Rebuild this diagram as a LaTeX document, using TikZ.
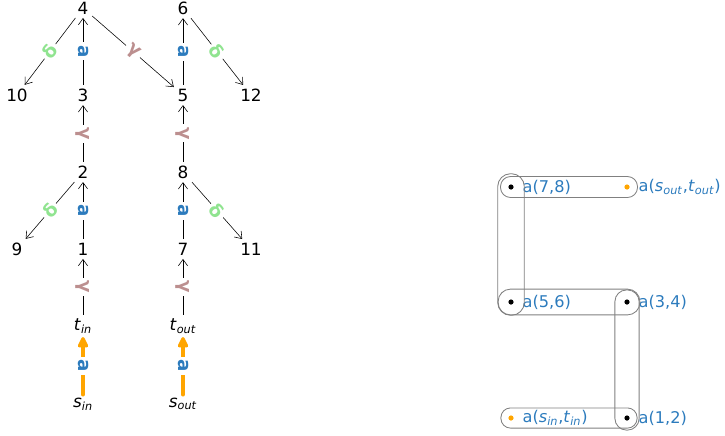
\documentclass[tikz,border=0pt]{standalone}
\usepackage{fontspec}
\setmainfont{DejaVu Sans}
\usetikzlibrary{arrows.meta,fit}

\definecolor{ablue}{RGB}{44,123,189}
\definecolor{gpink}{RGB}{188,143,143}
\definecolor{dgreen}{RGB}{144,228,144}
\definecolor{sorange}{RGB}{255,165,0}

\tikzset{
  vert/.style={inner sep=2.5pt, font=\fontsize{12}{14}\selectfont},
  edge/.style={thin, -{Straight Barb[length=4.5pt,width=6.5pt]}},
  elab/.style={fill=white, inner sep=2pt, font=\bfseries\fontsize{13}{14}\selectfont},
  alab/.style={elab, text=ablue},
  glab/.style={elab, text=gpink},
  dlab/.style={elab, text=dgreen},
  sedge/.style={sorange, line width=3.5pt, line cap=round,
    -{Triangle[length=9pt,width=8pt,round]}},
  dot/.style={circle, fill, inner sep=0pt, minimum size=0.13cm},
  pname/.style={anchor=west, inner sep=1pt, text=ablue, font=\fontsize{11.5}{13}\selectfont},
  hedge/.style={draw=gray, line width=0.6pt}
}

\newcommand{\sub}[2]{\textit{#1}\textsubscript{\textit{#2}}}

\begin{document}
\begin{tikzpicture}[x=0.025cm, y=-0.025cm]
  \useasboundingbox (0,0) rectangle (725,435);

  % Vertices:
  \node[vert] (n4) at (83,8) {4};
  \node[vert] (n6) at (183,8) {6};
  \node[vert] (n10) at (17,95) {10};
  \node[vert] (n3) at (83,95) {3};
  \node[vert] (n5) at (183,95) {5};
  \node[vert] (n12) at (251,95) {12};
  \node[vert] (n2) at (83,172) {2};
  \node[vert] (n8) at (183,172) {8};
  \node[vert] (n9) at (17,249) {9};
  \node[vert] (n1) at (83,249) {1};
  \node[vert] (n7) at (183,249) {7};
  \node[vert] (n11) at (251,249) {11};
  \node[vert] (tin) at (83,326) {\sub{t}{in}};
  \node[vert] (tout) at (183,326) {\sub{t}{out}};
  \node[vert] (sin) at (83,404) {\sub{s}{in}};
  \node[vert] (sout) at (183,404) {\sub{s}{out}};

  % Upward edges:
  \foreach \a/\b/\s/\t in {n3/n4/alab/a, n2/n3/glab/γ, n1/n2/alab/a, tin/n1/glab/γ,
                           n5/n6/alab/a, n8/n5/glab/γ, n7/n8/alab/a, tout/n7/glab/γ}
    \draw[edge] (\a) -- node[\s, rotate=-90] {\t} (\b);

  % Side edges:
  \draw[edge] (n4) -- node[dlab, rotate=53] {δ} (n10);
  \draw[edge] (n4) -- node[glab, rotate=-41] {γ} (n5);
  \draw[edge] (n6) -- node[dlab, rotate=-52] {δ} (n12);
  \draw[edge] (n2) -- node[dlab, rotate=49] {δ} (n9);
  \draw[edge] (n8) -- node[dlab, rotate=-49] {δ} (n11);

  % Source edges:
  \draw[sedge] (sin) -- node[alab, rotate=-90] {a} (tin);
  \draw[sedge] (sout) -- node[alab, rotate=-90] {a} (tout);

  % Pairs:
  \node[dot] (p78) at (511,187) {};
  \node[dot, sorange] (pout) at (627,187) {};
  \node[dot] (p56) at (511,302) {};
  \node[dot] (p34) at (627,302) {};
  \node[dot, sorange] (pin) at (511,418) {};
  \node[dot] (p12) at (627,418) {};
  \node[pname] (l78) at (521,187) {a(7,8)};
  \node[pname] (lout) at (637,187) {a(\sub{s}{out},\sub{t}{out})};
  \node[pname] (l56) at (521,302) {a(5,6)};
  \node[pname] (l34) at (637,302) {a(3,4)};
  \node[pname] (lin) at (521,418) {a(\sub{s}{in},\sub{t}{in})};
  \node[pname] (l12) at (637,418) {a(1,2)};

  % Hyperedges:
  \node[hedge, fit=(p78)(pout), inner sep=0.19cm, rounded corners=0.25cm] (h1) {};
  \node[hedge, fit=(p78)(p56), inner sep=0.26cm, rounded corners=0.32cm] (h2) {};
  \node[hedge, fit=(p56)(p34), inner sep=0.25cm, rounded corners=0.31cm] (h3) {};
  \node[hedge, fit=(p34)(p12), inner sep=0.23cm, rounded corners=0.29cm] (h4) {};
  \node[hedge, fit=(pin)(p12), inner sep=0.18cm, rounded corners=0.24cm] (h5) {};
\end{tikzpicture}
\end{document}
